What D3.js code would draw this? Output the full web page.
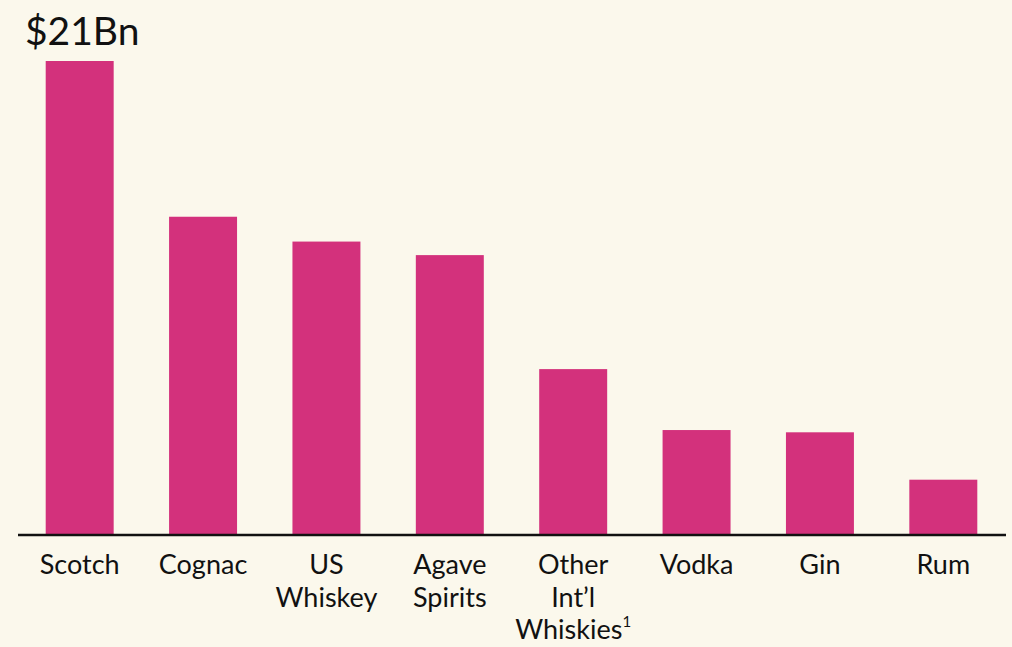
<!DOCTYPE html>
<html>
<head>
<meta charset="utf-8">
<script src="https://cdn.jsdelivr.net/npm/d3@7"></script>
<style>
  html, body { margin: 0; padding: 0; background: #FBF8EC; }
  svg { display: block; font-family: "Lato", "Open Sans", sans-serif; }
</style>
</head>
<body>
<svg id="chart" width="1012" height="647"></svg>
<script>
// Spirits categories, value in $Bn
const categories = ["Scotch", "Cognac", "US Whiskey", "Agave Spirits", "Other Int'l Whiskies", "Vodka", "Gin", "Rum"];
const labelLines = [["Scotch"], ["Cognac"], ["US", "Whiskey"], ["Agave", "Spirits"], ["Other", "Int\u2019l", "Whiskies"], ["Vodka"], ["Gin"], ["Rum"]];
const footnotes = ["", "", "", "", "1", "", "", ""];
const values = [21, 14.1, 13.0, 12.4, 7.35, 4.65, 4.55, 2.45];
const topLabel = "$21Bn";

const svg = d3.select("#chart");
const W = 1012, H = 647;
const baseY = 535;
const topY = 61;

const x = d3.scaleBand()
  .domain(categories)
  .range([18, 1005])
  .paddingInner(0.449)
  .paddingOuter(0.2245);

const y = d3.scaleLinear()
  .domain([0, d3.max(values)])
  .range([baseY, topY]);

svg.append("rect").attr("width", W).attr("height", H).attr("fill", "#FBF8EC");

svg.append("g").selectAll("rect")
  .data(categories)
  .join("rect")
  .attr("x", d => x(d))
  .attr("width", x.bandwidth())
  .attr("y", (d, i) => y(values[i]))
  .attr("height", (d, i) => baseY - y(values[i]))
  .attr("fill", "#D3317C");

// Baseline axis with multi-line category labels
const axis = d3.axisBottom(x).tickSize(0).tickFormat("");
const gAxis = svg.append("g").attr("transform", `translate(0,${baseY})`).call(axis);
gAxis.select(".domain").attr("stroke", "#111").attr("stroke-width", 2.5)
  .attr("d", `M18,0H1006`);

const labels = svg.append("g").selectAll("text")
  .data(categories)
  .join("text")
  .attr("x", d => x(d) + x.bandwidth() / 2)
  .attr("y", 574)
  .attr("text-anchor", "middle")
  .attr("font-size", 27)
  .attr("fill", "#111");

labels.each(function(d, i) {
  const t = d3.select(this);
  labelLines[i].forEach((line, j) => {
    t.append("tspan")
      .attr("x", x(d) + x.bandwidth() / 2)
      .attr("dy", j === 0 ? 0 : 32.5)
      .text(line);
  });
  if (footnotes[i]) {
    t.append("tspan").attr("dy", -12).attr("font-size", 15).text(footnotes[i]);
  }
});

// Value label for the tallest bar
svg.append("text")
  .attr("x", 25)
  .attr("y", 45)
  .attr("font-size", 39)
  .attr("fill", "#111")
  .text(topLabel);
</script>
</body>
</html>
